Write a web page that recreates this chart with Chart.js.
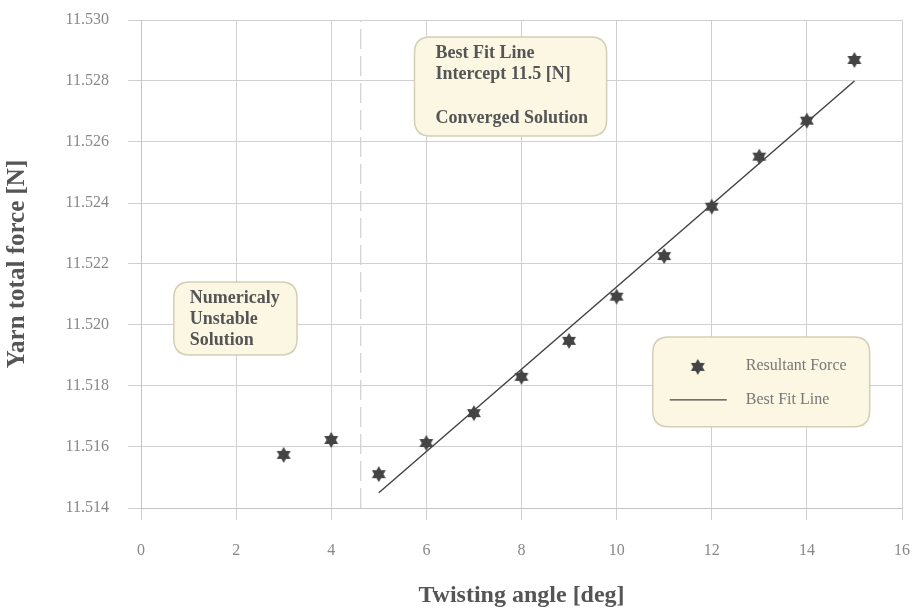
<!DOCTYPE html>
<html>
<head>
<meta charset="utf-8">
<script src="https://cdn.jsdelivr.net/npm/chart.js@4.4.0/dist/chart.umd.min.js"></script>
<style>
    html, body { margin: 0; padding: 0; background: #fff; }
    #wrap { width: 919px; height: 613px; }
</style>
</head>
<body>
<div id="wrap"><canvas id="yarn-force"></canvas></div>
<script>
var twistAngles = [3, 4, 5, 6, 7, 8, 9, 10, 11, 12, 13, 14, 15];
var resultantForce = [11.51574, 11.51623, 11.51511, 11.51613, 11.51711, 11.51830, 11.51948,
                      11.52093, 11.52226, 11.52388, 11.52552, 11.52670, 11.52869];
var fitAngles = [5, 15];
var fitForce = [11.5145, 11.5280];
var limitAngles = [4.62, 4.62];
var limitForce = [11.514, 11.530];
var xTickValues = [0, 2, 4, 6, 8, 10, 12, 14, 16];
var yTickValues = [11.514, 11.516, 11.518, 11.520, 11.522, 11.524, 11.526, 11.528, 11.530];

var serif = '"Liberation Serif", "DejaVu Serif", serif';
var ink = '#444';
var boxFill = '#fbf7e3';
var boxEdge = '#d3cfb6';

function toPoints(xs, ys) {
    return xs.map(function(x, i) { return {x: x, y: ys[i]}; });
}

// six pointed star used as point style
function makeStar(r, color) {
    var c = document.createElement('canvas');
    var s = Math.ceil(r * 2 + 2);
    c.width = s;
    c.height = s;
    var g = c.getContext('2d');
    g.fillStyle = color;
    g.beginPath();
    for (var i = 0; i < 12; i++) {
        var rad = i % 2 === 0 ? r : r * 0.58;
        var a = -Math.PI / 2 + i * Math.PI / 6;
        var px = s / 2 + rad * Math.cos(a);
        var py = s / 2 + rad * Math.sin(a);
        if (i === 0) g.moveTo(px, py); else g.lineTo(px, py);
    }
    g.closePath();
    g.fill();
    return c;
}
var star = makeStar(8, ink);

function roundBox(ctx, x0, y0, x1, y1, r) {
    ctx.beginPath();
    ctx.moveTo(x0 + r, y0);
    ctx.lineTo(x1 - r, y0);
    ctx.quadraticCurveTo(x1, y0, x1, y0 + r);
    ctx.lineTo(x1, y1 - r);
    ctx.quadraticCurveTo(x1, y1, x1 - r, y1);
    ctx.lineTo(x0 + r, y1);
    ctx.quadraticCurveTo(x0, y1, x0, y1 - r);
    ctx.lineTo(x0, y0 + r);
    ctx.quadraticCurveTo(x0, y0, x0 + r, y0);
    ctx.closePath();
    ctx.fillStyle = boxFill;
    ctx.fill();
    ctx.lineWidth = 1.5;
    ctx.strokeStyle = boxEdge;
    ctx.stroke();
}

// text boxes and legend, placed in data units
var notesPlugin = {
    id: 'notes',
    afterDatasetsDraw: function(chart) {
        var ctx = chart.ctx;
        var xs = chart.scales.x, ys = chart.scales.y;
        var notes = [
            {x0: 5.75, x1: 9.79, y0: 11.52944, y1: 11.52620, pad: 21, top: 16, step: 21.6,
             lines: ['Best Fit Line', 'Intercept 11.5 [N]', '', 'Converged Solution']},
            {x0: 0.69, x1: 3.28, y0: 11.52141, y1: 11.51902, pad: 16, top: 16, step: 21,
             lines: ['Numericaly', 'Unstable', 'Solution']}
        ];
        ctx.save();
        notes.forEach(function(n) {
            var bx0 = xs.getPixelForValue(n.x0), bx1 = xs.getPixelForValue(n.x1);
            var by0 = ys.getPixelForValue(n.y0), by1 = ys.getPixelForValue(n.y1);
            roundBox(ctx, bx0, by0, bx1, by1, 16);
            ctx.fillStyle = '#555';
            ctx.font = 'bold 18px ' + serif;
            ctx.textBaseline = 'middle';
            ctx.textAlign = 'left';
            n.lines.forEach(function(t, i) {
                ctx.fillText(t, bx0 + n.pad, by0 + n.top + i * n.step);
            });
        });

        // legend box
        var lx0 = xs.getPixelForValue(10.76), lx1 = xs.getPixelForValue(15.32);
        var ly0 = ys.getPixelForValue(11.51961), ly1 = ys.getPixelForValue(11.51666);
        roundBox(ctx, lx0, ly0, lx1, ly1, 16);
        ctx.drawImage(star, lx0 + 45 - star.width / 2, ly0 + 30 - star.height / 2);
        ctx.strokeStyle = ink;
        ctx.lineWidth = 1.2;
        ctx.beginPath();
        ctx.moveTo(lx0 + 17, ly0 + 63);
        ctx.lineTo(lx0 + 74, ly0 + 63);
        ctx.stroke();
        ctx.fillStyle = '#777';
        ctx.font = '16px ' + serif;
        ctx.textBaseline = 'middle';
        ctx.fillText('Resultant Force', lx0 + 93, ly0 + 29);
        ctx.fillText('Best Fit Line', lx0 + 93, ly0 + 63);
        ctx.restore();
    }
};

var ctx = document.getElementById('yarn-force');
var forceChart = new Chart(ctx, {
    type: 'scatter',
    data: {
        datasets: [{
            label: 'Limit',
            data: toPoints(limitAngles, limitForce),
            showLine: true,
            borderColor: '#cfcfcf',
            borderWidth: 1.2,
            borderDash: [20, 7],
            pointRadius: 0
        }, {
            label: 'Best Fit Line',
            data: toPoints(fitAngles, fitForce),
            showLine: true,
            borderColor: ink,
            borderWidth: 1.5,
            pointRadius: 0
        }, {
            label: 'Resultant Force',
            data: toPoints(twistAngles, resultantForce),
            pointStyle: star,
            pointRadius: 8,
            showLine: false
        }]
    },
    plugins: [notesPlugin],
    options: {
        responsive: true,
        maintainAspectRatio: false,
        animation: false,
        layout: { padding: 0 },
        plugins: {
            legend: { display: false },
            tooltip: { enabled: false }
        },
        scales: {
            x: {
                type: 'linear',
                min: 0,
                max: 16,
                afterBuildTicks: function(scale) {
                    scale.ticks = xTickValues.map(function(v) { return {value: v}; });
                },
                afterFit: function(scale) {
                    scale.height = 105;
                    scale.paddingRight = 17;
                    scale.paddingLeft = 8;
                },
                grid: { color: '#d0d0d0', lineWidth: 1, tickLength: 12 },
                border: { color: '#c4c4c4' },
                ticks: {
                    color: '#888',
                    padding: 21,
                    font: { family: serif, size: 16 }
                },
                title: {
                    display: true,
                    text: 'Twisting angle [deg]',
                    color: '#555',
                    padding: { top: 0, bottom: 3 },
                    font: { family: serif, size: 24, weight: 'bold' }
                }
            },
            y: {
                type: 'linear',
                min: 11.514,
                max: 11.530,
                afterBuildTicks: function(scale) {
                    scale.ticks = yTickValues.map(function(v) { return {value: v}; });
                },
                afterFit: function(scale) {
                    scale.width = 141;
                    scale.paddingTop = 20;
                    scale.paddingBottom = 8;
                },
                grid: { color: '#d0d0d0', lineWidth: 1, tickLength: 13 },
                border: { color: '#c4c4c4' },
                ticks: {
                    color: '#888',
                    padding: 19,
                    font: { family: serif, size: 16 },
                    callback: function(v) { return v.toFixed(3); }
                },
                title: {
                    display: true,
                    text: 'Yarn total force [N]',
                    color: '#555',
                    padding: { top: 3, bottom: 0 },
                    font: { family: serif, size: 25, weight: 'bold' }
                }
            }
        }
    }
});
</script>
</body>
</html>
